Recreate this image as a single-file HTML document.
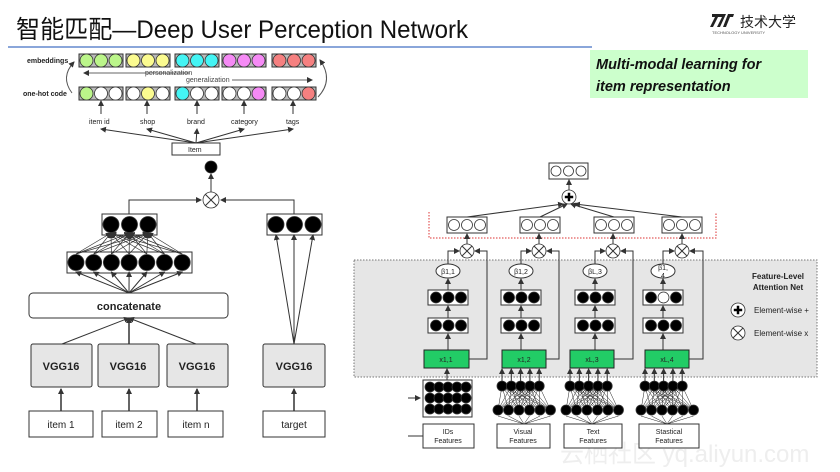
<!DOCTYPE html>
<html><head><meta charset="utf-8"><style>
body{margin:0;background:#fff;width:840px;height:472px;overflow:hidden}
svg{display:block}
text{font-family:"Liberation Sans","Noto Sans CJK SC",sans-serif}
</style></head><body>
<svg id="s" width="840" height="472" viewBox="0 0 840 472" xmlns="http://www.w3.org/2000/svg">
<defs><marker id="a" markerWidth="6" markerHeight="6" refX="5" refY="3" orient="auto" markerUnits="userSpaceOnUse"><path d="M0,0L6,3L0,6z" fill="#333"/></marker></defs>
<text x="560" y="462" font-size="24" fill="#eeeeee">云栖社区 yq.aliyun.com</text>
<g id="g"></g>
<text x="16" y="38" font-size="25" fill="#111" textLength="452" lengthAdjust="spacingAndGlyphs">智能匹配—Deep User Perception Network</text>
<line x1="8" y1="47" x2="592" y2="47" stroke="#4472c4" stroke-width="1.2"/>
<path d="M712 14h14l-6 13h-3l5-10h-4l-5 10h-3l5-10h-3z M728 14h6l-1 3h-3l-4 10h-3z" fill="#222"/>
<text x="740" y="27" font-size="14" fill="#222">技术大学</text>
<text x="712" y="34" font-size="4" fill="#555">TECHNOLOGY UNIVERSITY</text>
<rect x="590" y="50" width="218" height="48" fill="#ccffcc"/>
<text x="596" y="69" font-size="14.5" font-weight="bold" font-style="italic" fill="#111">Multi-modal  learning for</text>
<text x="596" y="91" font-size="14.5" font-weight="bold" font-style="italic" fill="#111">item representation</text>
<g font-size="7" fill="#222">
<text x="27" y="63" font-weight="bold">embeddings</text>
<text x="23" y="96" font-weight="bold">one-hot code</text>
<text x="145" y="75" fill="#444">personalization</text>
<text x="186" y="82" fill="#444">generalization</text>
<text x="89" y="124">item id</text><text x="140" y="124">shop</text><text x="187" y="124">brand</text><text x="231" y="124">category</text><text x="286" y="124">tags</text>
<text x="188" y="152">Item</text>
</g>
<g font-size="11" font-weight="bold" fill="#222" text-anchor="middle">
<text x="129" y="310">concatenate</text>
<text x="61" y="370">VGG16</text><text x="128" y="370">VGG16</text><text x="197" y="370">VGG16</text><text x="294" y="370">VGG16</text>
</g>
<g font-size="10" fill="#222" text-anchor="middle">
<text x="61" y="428">item 1</text><text x="129" y="428">item 2</text><text x="196" y="428">item n</text><text x="294" y="428">target</text>
</g>
<g font-size="7" fill="#222" text-anchor="middle">
<text x="448" y="274">β1,1</text><text x="521" y="274">β1,2</text><text x="595" y="274">βL,3</text><text x="663" y="270">β1,</text><text x="663" y="278">4</text>
<text x="446" y="362">x1,1</text><text x="524" y="362">x1,2</text><text x="592" y="362">xL,3</text><text x="667" y="362">xL,4</text>
<text x="448" y="434">IDs</text><text x="448" y="443">Features</text>
<text x="523" y="434">Visual</text><text x="523" y="443">Features</text>
<text x="593" y="434">Text</text><text x="593" y="443">Features</text>
<text x="669" y="434">Stastical</text><text x="669" y="443">Features</text>
</g>
<g font-size="8" fill="#222">
<text x="778" y="279" font-weight="bold" text-anchor="middle">Feature-Level</text>
<text x="778" y="290" font-weight="bold" text-anchor="middle">Attention Net</text>
<text x="754" y="313">Element-wise +</text>
<text x="754" y="336">Element-wise x</text>
</g>
</svg>
<script>
const g=document.getElementById('g');let h='';
const L=(x1,y1,x2,y2,m,c,w)=>h+=`<line x1="${x1}" y1="${y1}" x2="${x2}" y2="${y2}" stroke="${c||'#333'}" stroke-width="${w||1}" ${m?'marker-end="url(#a)"':''}/>`;
const P=(d,m,c)=>h+=`<path d="${d}" fill="none" stroke="${c||'#333'}" ${m?'marker-end="url(#a)"':''}/>`;
const R=(x,y,w,hh,f,s,rx)=>h+=`<rect x="${x}" y="${y}" width="${w}" height="${hh}" fill="${f||'#fff'}" stroke="${s||'#333'}" rx="${rx||0}"/>`;
const C=(x,y,r,f,s)=>h+=`<circle cx="${x}" cy="${y}" r="${r}" fill="${f}" stroke="${s||'#333'}" stroke-width="0.8"/>`;
const OX=(x,y,r)=>{C(x,y,r,'#fff');const d=r*0.7;L(x-d,y-d,x+d,y+d);L(x-d,y+d,x+d,y-d);};
const OP=(x,y,r)=>{C(x,y,r,'#fff');h+=`<path d="M${x-r*.6} ${y}H${x+r*.6}M${x} ${y-r*.6}V${y+r*.6}" stroke="#000" stroke-width="2.5"/>`;};
const gx=[79,126,175,222,272],col=['#bbf58a','#fbfb90','#44f4f4','#f58af5','#f58080'];
gx.forEach((x,i)=>{R(x,54,44,13,'#bbb');R(x,87,44,13,'#bbb');for(let k=0;k<3;k++){C(x+7.5+k*14.5,60.5,6.5,col[i]);C(x+7.5+k*14.5,93.5,6.5,k==[0,1,0,2,2][i]?col[i]:'#fff');}});
L(190,73,84,73,1,'#666');L(232,80,312,80,1,'#666');
P('M72 93Q60 77 74 62',1,'#555');P('M318 97Q334 80 320 60',1,'#555');
[101,147,197,244,293].forEach(x=>{L(x,114,x,101,1);L(196,143,x,129,1);});
R(172,143,48,12,'#fff');
C(211,167,6,'#000');OX(211,200,8);L(211,192,211,174,1);
P('M129 214V200H201',1);P('M294 214V200H221',1);
R(102,214,55,21,'#fff');[0,1,2].forEach(k=>C(111+k*18.5,224.5,8,'#000'));
R(67,252,125,21,'#fff');for(let k=0;k<7;k++)C(76+k*17.7,262.5,8,'#000');
for(let k=0;k<7;k++){L(129,293,76+k*17.7,272,1);for(let j=0;j<3;j++)L(76+k*17.7,254,111+j*18.5,233,1,'#333',0.7);}
R(29,293,199,25,'#fff','#333',4);
[31,98,167,263].forEach(x=>{R(x,344,(x==263?62:61),43,'#e6e6e6','#333',2);});
L(62,344,129,318,1);L(129,344,129,318,1,'#333',1.5);L(196,344,129,318,1);
R(29,411,64,26);R(102,411,55,26);R(168,411,55,26);R(263,411,62,26);
[61,129,197,294].forEach(x=>L(x,411,x,389,1,'#333',1.5));
R(267,214,55,21,'#fff');[0,1,2].forEach(k=>C(276+k*18.5,224.5,8,'#000'));
[276,294,313].forEach(x=>L(294,344,x,235,1));
h+='<rect x="354" y="260" width="463" height="117" fill="#e6e6e6" stroke="#777" stroke-dasharray="1.5,1.5"/>';
h+='<path d="M429 212V238H716V212" fill="none" stroke="#d33" stroke-dasharray="1.5,1.5"/>';
R(549,163,39,16);[0,1,2].forEach(k=>C(556+k*12.5,171,5,'#fff'));
OP(569,197,7);L(569,190,569,180,1);
const bx=[447,520,594,662],ox=[467,539,613,682],be=[448,521,595,663],dx=[428,501,575,643],grx=[424,502,570,645],grw=[45,44,44,44],rx=[487,559,633,703];
bx.forEach((x,i)=>{R(x,217,40,16);[0,1,2].forEach(k=>C(x+7+k*13,225,5.5,'#fff'));L(x+20,217,569+(i-1.5)*4,204,1);
OX(ox[i],251,7);L(ox[i],244,ox[i],234,1);
h+=`<ellipse cx="${be[i]}" cy="271" rx="12" ry="7" fill="#fff" stroke="#333"/>`;
P(`M${be[i]} 264V251H${ox[i]-8}`,1);
R(dx[i],290,40,15);R(dx[i],318,40,15);[0,1,2].forEach(k=>{C(dx[i]+8+k*12.5,297.5,5.5,(i==3&&k==1)?'#fff':'#000');C(dx[i]+8+k*12.5,325.5,5.5,'#000');});
L(dx[i]+20,318,dx[i]+20,306,1);L(dx[i]+20,350,dx[i]+20,334,1);L(be[i],290,be[i],279,1);
R(grx[i],350,grw[i],18,'#22cc66','#222');
P(`M${grx[i]+grw[i]} 359H${rx[i]}V251H${ox[i]+8}`,1);
});
R(423,380,49,37);for(let r=0;r<3;r++)for(let k=0;k<5;k++)C(430+k*9,387+r*11,5,'#000');
L(408,398,420,398,1);L(408,436,423,436);L(447,380,447,369,1);
[[502,498],[570,566],[645,641]].forEach(([t,b])=>{const top=[],bot=[];for(let k=0;k<5;k++)top.push(t+k*9.3);for(let k=0;k<6;k++)bot.push(b+k*10.5);
top.forEach(x=>bot.forEach(y=>L(x,386,y,410,0,'#222',0.5)));bot.forEach(x=>L(x,416,b+26,424,0,'#222',0.5));
top.forEach(x=>{C(x,386,5,'#000');L(x,381,x,369,1);});bot.forEach(x=>C(x,410,5,'#000'));});
R(423,424,51,24);R(497,424,53,24);R(564,424,58,24);R(639,424,60,24);
OP(738,310,7);OX(738,333,7);
g.innerHTML=h;
</script>
</body></html>
